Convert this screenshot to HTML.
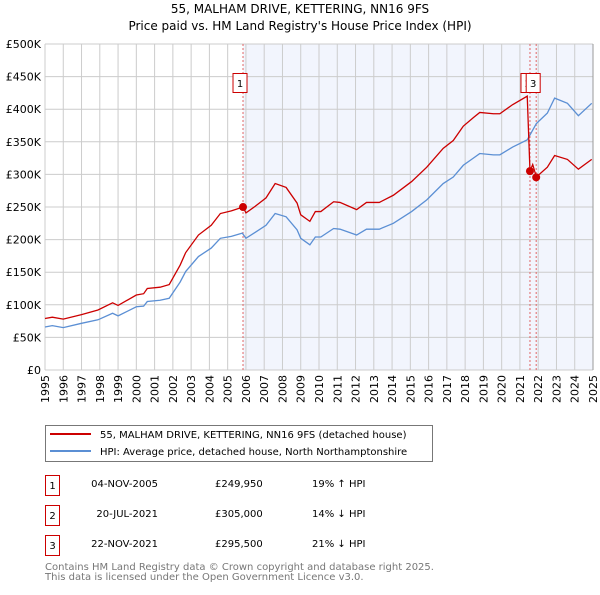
<!DOCTYPE html>
<html><head><meta charset="utf-8"><style>
body{margin:0;background:#fff;font-family:"Liberation Sans","DejaVu Sans",sans-serif}
svg text{font-family:"DejaVu Sans","Liberation Sans",sans-serif}
</style></head><body>
<svg id="c" width="600" height="590" xmlns="http://www.w3.org/2000/svg">
<text x="300" y="13" text-anchor="middle" font-size="12" fill="#000">55, MALHAM DRIVE, KETTERING, NN16 9FS</text>
<text x="300" y="30" text-anchor="middle" font-size="12" fill="#000">Price paid vs. HM Land Registry's House Price Index (HPI)</text>
<g id="plot"></g>
<g>
<rect x="45.5" y="425.5" width="387" height="36" fill="#fff" stroke="#777"/>
<line x1="50" y1="434" x2="91" y2="434" stroke="#cc0000" stroke-width="2"/>
<text x="100" y="438" font-size="10">55, MALHAM DRIVE, KETTERING, NN16 9FS (detached house)</text>
<line x1="50" y1="451" x2="91" y2="451" stroke="#5b8fd4" stroke-width="2"/>
<text x="100" y="455" font-size="10">HPI: Average price, detached house, North Northamptonshire</text>
</g>
<g font-size="10">
<rect x="45.5" y="475.5" width="14" height="20" fill="#fff" stroke="#cc0000"/><text x="52.5" y="489" text-anchor="middle">1</text>
<text x="158" y="487" text-anchor="end">04-NOV-2005</text><text x="215" y="487">£249,950</text><text x="312" y="487">19% ↑ HPI</text>
<rect x="45.5" y="505.5" width="14" height="20" fill="#fff" stroke="#cc0000"/><text x="52.5" y="519" text-anchor="middle">2</text>
<text x="158" y="517" text-anchor="end">20-JUL-2021</text><text x="215" y="517">£305,000</text><text x="312" y="517">14% ↓ HPI</text>
<rect x="45.5" y="535.5" width="14" height="20" fill="#fff" stroke="#cc0000"/><text x="52.5" y="549" text-anchor="middle">3</text>
<text x="158" y="547" text-anchor="end">22-NOV-2021</text><text x="215" y="547">£295,500</text><text x="312" y="547">21% ↓ HPI</text>
</g>
<text x="45" y="570" font-size="10" fill="#777">Contains HM Land Registry data © Crown copyright and database right 2025.</text>
<text x="45" y="580" font-size="10" fill="#777">This data is licensed under the Open Government Licence v3.0.</text>
</svg>
<script>
const hpiYears=[1995.0,1995.4,1996.0,1997.0,1997.9,1998.7,1999.0,2000.0,2000.4,2000.6,2001.3,2001.8,2002.4,2002.7,2003.4,2004.1,2004.6,2005.2,2005.8,2006.0,2006.5,2007.1,2007.6,2008.2,2008.8,2009.0,2009.5,2009.8,2010.1,2010.8,2011.15,2012.06,2012.6,2013.3,2014.07,2015.07,2015.9,2016.8,2017.35,2017.9,2018.45,2018.8,2019.55,2019.9,2020.6,2021.4,2021.9,2022.5,2022.9,2023.6,2024.2,2024.93];
const hpiValues=[66,68,65,71.6,77,87,83,97,98,105,107,110,135,151,174,187,202,205,210,202,211,222,240,235,215,202,192,204,204,217,216,207,216,216,225,243,261,286,296,314,325,332,330,330,342,353,378,394,417,409,390,409];
const priceYears=[1995.0,1995.4,1996.0,1997.0,1997.9,1998.7,1999.0,2000.0,2000.4,2000.6,2001.3,2001.8,2002.4,2002.7,2003.4,2004.1,2004.6,2005.2,2005.84,2006.0,2006.5,2007.1,2007.6,2008.2,2008.8,2009.0,2009.5,2009.8,2010.1,2010.8,2011.15,2012.06,2012.6,2013.3,2014.07,2015.07,2015.9,2016.8,2017.35,2017.9,2018.45,2018.8,2019.55,2019.9,2020.6,2021.4,2021.55,2021.7,2021.9,2022.5,2022.9,2023.6,2024.2,2024.93];
const priceValues=[79,81,78,85,92,103,99,115,117,125,127,131,161,180,207,222,240,244,250,241,251,264,286,280,256,238,228,243,243,258,257,246,257,257,268,289,311,340,352,374,387,395,393,393,407,420,305,315,296,311,329,323,308,323];
const saleLabels=["1","2","3"];
const saleYears=[2005.84,2021.55,2021.89];
const saleValues=[249.95,305,295.5];
const yTicks=[0,50,100,150,200,250,300,350,400,450,500];
const yTickLabels=["£0","£50K","£100K","£150K","£200K","£250K","£300K","£350K","£400K","£450K","£500K"];
const xTicks=[1995,1996,1997,1998,1999,2000,2001,2002,2003,2004,2005,2006,2007,2008,2009,2010,2011,2012,2013,2014,2015,2016,2017,2018,2019,2020,2021,2022,2023,2024,2025];

const X0=45,X1=593,Y0=370,Y1=44;
const xs=y=>X0+(y-1995)/30*(X1-X0);
const ys=v=>Y0-v/500*(Y0-Y1);
const NS="http://www.w3.org/2000/svg";
const g=document.getElementById('plot');
function mk(t,a){const e=document.createElementNS(NS,t);for(const k in a)e.setAttribute(k,a[k]);g.appendChild(e);return e;}
let e=mk('rect',{x:xs(saleYears[0]),y:Y1,width:X1-xs(saleYears[0]),height:Y0-Y1,fill:'#f2f5fd'});


xTicks.forEach(t=>{const l=mk('line',{x1:xs(t),x2:xs(t),y1:Y1,y2:Y0,stroke:'#cccccc'});


const tx=mk('text',{x:0,y:0,'font-size':11,'text-anchor':'end',transform:`translate(${xs(t)+4},${Y0+5}) rotate(-90)`});tx.textContent=t;

});
yTicks.forEach((t,i)=>{const l=mk('line',{x1:X0,x2:X1,y1:ys(t),y2:ys(t),stroke:'#cccccc'});


const tx=mk('text',{x:X0-4,y:ys(t)+4,'font-size':11,'text-anchor':'end'});tx.textContent=yTickLabels[i];

});
saleYears.forEach(s=>{const l=mk('line',{x1:xs(s),x2:xs(s),y1:Y1,y2:Y0,stroke:'#e06666','stroke-dasharray':'2,2'});

});
e=mk('polyline',{points:hpiYears.map((y,i)=>xs(y)+','+ys(hpiValues[i])).join(' '),fill:'none',stroke:'#5b8fd4','stroke-width':1.3});


e=mk('polyline',{points:priceYears.map((y,i)=>xs(y)+','+ys(priceValues[i])).join(' '),fill:'none',stroke:'#cc0000','stroke-width':1.3});


const offs=[-3,-2,-3];
saleYears.forEach((s,i)=>{const c=mk('circle',{cx:xs(s),cy:ys(saleValues[i]),r:4,fill:'#cc0000'});


const off=offs[i];
const r=mk('rect',{x:xs(s)+off-7,y:73.5,width:14,height:19,fill:'#fff',stroke:'#cc0000'});


const t=mk('text',{x:xs(s)+off,y:87,'font-size':10,'text-anchor':'middle'});t.textContent=saleLabels[i];

});
e=mk('line',{x1:X1,x2:X1,y1:Y1,y2:Y0,stroke:'#999'});


</script>
</body></html>
